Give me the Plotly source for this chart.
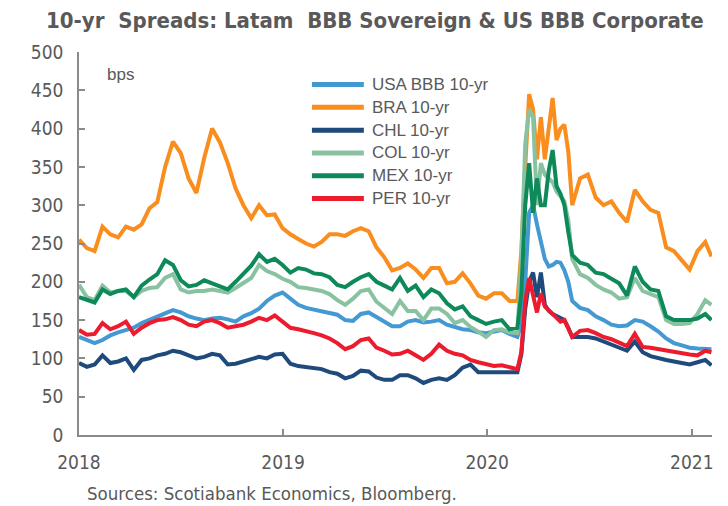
import pandas as pd
import plotly.graph_objects as go

# Observation dates: fortnightly, weekly through the Mar-May 2020 sell-off, last print early Feb 2021
dates = pd.date_range("2018-01-01", periods=81, freq="14D").union(
    pd.to_datetime(["2020-03-02", "2020-03-16", "2020-03-30", "2020-04-13",
                    "2020-04-27", "2020-05-11", "2020-05-25", "2021-02-05"]))

usa_bbb = [128, 124, 120, 124, 130, 134, 137, 140, 146, 150, 154, 158, 163, 160, 155, 152, 150, 152, 153, 151,
           148, 155, 159, 165, 175, 182, 186, 178, 170, 166, 164, 162, 160, 157, 150, 149, 158, 160, 154, 148,
           142, 142, 148, 150, 147, 148, 150, 144, 141, 138, 137, 134, 133, 135, 137, 132, 128,
           145, 200, 290, 300, 275, 250, 230, 220, 222, 226, 225, 215, 200, 175,
           166, 163, 155, 150, 144, 142, 143, 150, 148, 142, 135, 126, 120, 117, 114, 113, 112,
           112]
bra = [255, 244, 240, 272, 262, 258, 272, 268, 275, 296, 304, 350, 383, 368, 335, 316, 362, 400, 382, 355,
       322, 300, 283, 300, 287, 288, 270, 262, 256, 250, 246, 252, 262, 262, 260, 266, 270, 266, 245, 232,
       215, 218, 224, 216, 205, 218, 218, 198, 200, 211, 198, 182, 178, 185, 185, 175, 175,
       240, 350, 445, 425, 360, 415, 360, 400, 440, 385, 400, 405, 370, 300,
       335, 340, 310, 300, 305, 290, 278, 320, 305, 294, 290, 245, 240, 228, 216, 240, 252,
       233]
chl = [94, 89, 92, 104, 94, 96, 100, 85, 98, 100, 104, 106, 110, 108, 104, 100, 102, 106, 104, 92,
       93, 96, 98, 102, 100, 105, 106, 93, 90, 89, 88, 86, 82, 80, 74, 77, 84, 83, 75, 72,
       72, 78, 78, 74, 68, 72, 74, 72, 78, 88, 92, 82, 82, 82, 82, 83, 82,
       105, 165, 200, 212, 180, 212, 170, 162, 158, 155, 152, 150, 140, 128,
       128, 128, 126, 122, 118, 115, 110, 122, 108, 103, 100, 98, 96, 94, 92, 95, 98,
       91]
col = [196, 180, 176, 195, 186, 188, 188, 180, 188, 192, 193, 205, 210, 190, 186, 188, 188, 190, 188, 186,
       192, 198, 205, 222, 214, 210, 204, 200, 193, 192, 190, 188, 184, 176, 170, 178, 188, 190, 174, 166,
       158, 175, 162, 162, 150, 165, 165, 158, 146, 150, 141, 135, 128, 137, 138, 134, 133,
       230, 380, 425, 415, 300, 355, 340, 335, 330, 318, 312, 305, 280, 230,
       210, 205, 196, 190, 186, 178, 180, 205, 188, 184, 180, 150, 145, 145, 146, 158, 176,
       170]
mex = [180, 176, 173, 190, 184, 188, 190, 180, 195, 203, 210, 228, 222, 202, 194, 196, 202, 198, 194, 190,
       200, 210, 221, 236, 226, 230, 222, 212, 218, 216, 211, 210, 206, 196, 193, 200, 206, 210, 200, 195,
       190, 205, 188, 195, 180, 190, 185, 172, 164, 168, 155, 150, 145, 148, 150, 138, 140,
       185, 300, 355, 290, 335, 300, 300, 345, 372, 325, 315, 300, 265, 235,
       225, 222, 212, 210, 204, 198, 182, 220, 200, 190, 188, 155, 150, 150, 150, 152, 158,
       150]
per = [137, 131, 132, 146, 138, 142, 148, 132, 140, 146, 150, 151, 154, 150, 144, 142, 148, 150, 146, 140,
       142, 144, 148, 153, 150, 156, 148, 140, 138, 136, 133, 130, 126, 120, 112, 116, 124, 126, 114, 110,
       105, 106, 110, 104, 98, 106, 118, 110, 106, 104, 98, 95, 92, 90, 91, 89, 86,
       108, 175, 205, 185, 160, 185, 168, 163, 158, 154, 148, 150, 140, 128,
       136, 137, 133, 128, 125, 120, 116, 132, 115, 114, 112, 110, 108, 107, 105, 104, 110,
       108]

series_names = ["USA BBB 10-yr", "BRA 10-yr", "CHL 10-yr", "COL 10-yr", "MEX 10-yr", "PER 10-yr"]
series_values = [usa_bbb, bra, chl, col, mex, per]
series_colors = ["#4499D3", "#F98D1E", "#1E4A7C", "#89C2A1", "#0E8A5A", "#EC1C2E"]

year_ticks = ["2018-01-01", "2019-01-01", "2020-01-01", "2021-01-01"]
year_labels = ["2018", "2019", "2020", "2021"]

grey = "#595959"
axis_grey = "#8A8A8A"
narrow = "Liberation Sans Narrow, DejaVu Sans Condensed, Arial, sans-serif"
regular = "Liberation Sans, Arial, sans-serif"

fig = go.Figure()
for name, vals, color in zip(series_names, series_values, series_colors):
    fig.add_trace(go.Scatter(x=dates, y=vals, mode="lines", name=name,
                             line=dict(color=color, width=4), showlegend=False))

# Legend drawn as line swatches + labels inside the plot area
leg_top, leg_step = 0.915, 0.0595
for i, (name, color) in enumerate(zip(series_names, series_colors)):
    yy = leg_top - i * leg_step
    fig.add_shape(type="line", xref="paper", yref="paper", x0=0.368, x1=0.450, y0=yy, y1=yy,
                  line=dict(color=color, width=5))
    fig.add_annotation(text=name, xref="paper", yref="paper", x=0.459, y=yy,
                       xanchor="left", yanchor="middle", showarrow=False,
                       font=dict(family=regular, size=17, color=grey))

fig.add_annotation(text="bps", xref="paper", yref="paper", x=0.041, y=0.94,
                   xanchor="left", yanchor="middle", showarrow=False,
                   font=dict(family=regular, size=17, color=grey))
fig.add_annotation(text="Sources: Scotiabank Economics, Bloomberg.", xref="paper", yref="paper",
                   x=0.009, y=-0.152, xanchor="left", yanchor="middle", showarrow=False,
                   font=dict(family=narrow, size=18.5, color=grey))

fig.update_layout(
    width=728, height=506,
    margin=dict(l=79, r=16, t=52, b=71),
    paper_bgcolor="white", plot_bgcolor="white",
    title=dict(text="<b>10-yr  Spreads: Latam  BBB Sovereign & US BBB Corporate</b>",
               x=0.515, xanchor="center", xref="container",
               y=1 - 20 / 506, yanchor="middle", yref="container",
               font=dict(family=narrow, size=22, color=grey)),
    xaxis=dict(range=["2018-01-01", "2021-02-06"], tickvals=year_ticks, ticktext=year_labels,
               showline=True, linecolor=axis_grey, linewidth=1.5, showgrid=False, zeroline=False,
               ticks="inside", ticklen=6, tickwidth=1.5, tickcolor=axis_grey,
               ticklabelstandoff=9, tickfont=dict(family=narrow, size=19, color=grey)),
    yaxis=dict(range=[0, 500], dtick=50, tick0=0,
               showline=True, linecolor=axis_grey, linewidth=1.5, showgrid=False, zeroline=False,
               ticks="inside", ticklen=6, tickwidth=1.5, tickcolor=axis_grey,
               ticklabelstandoff=10, tickfont=dict(family=narrow, size=19, color=grey)),
)

fig.write_html("out.html")
